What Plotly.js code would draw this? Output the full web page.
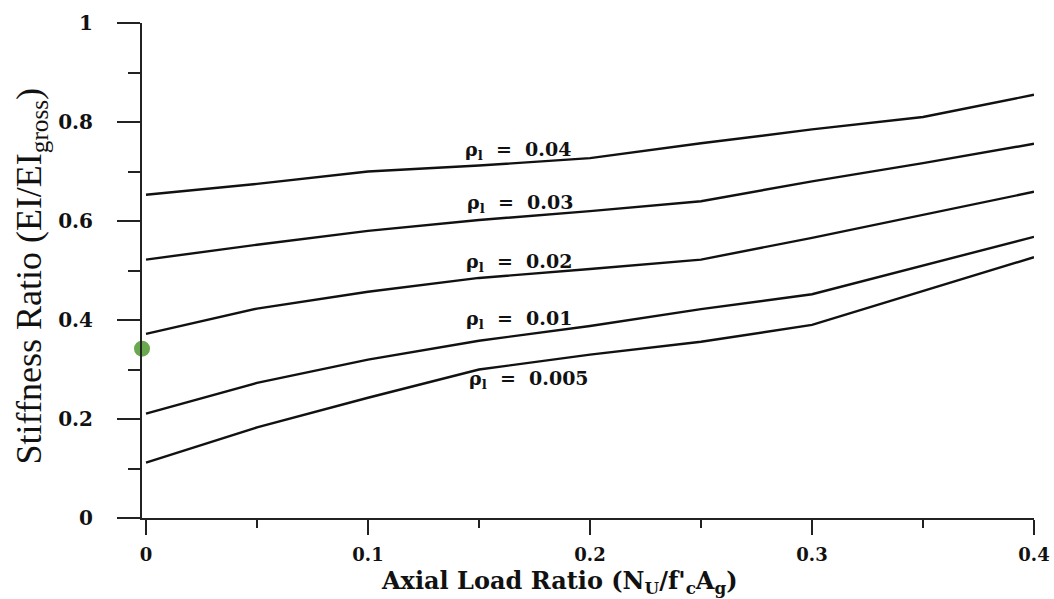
<!DOCTYPE html>
<html>
<head>
<meta charset="utf-8">
<script src="https://cdn.plot.ly/plotly-3.0.1.min.js"></script>
<style>html,body{margin:0;padding:0;background:#fff;}#chart{width:1054px;height:599px;}</style>
</head>
<body>
<div id="chart"></div>
<script>
// Axial load ratio values
const axialLoad = [0, 0.05, 0.1, 0.15, 0.2, 0.25, 0.3, 0.35, 0.4];
// Stiffness ratio for each longitudinal reinforcement ratio
const rho004 = [0.653, 0.675, 0.700, 0.712, 0.727, 0.757, 0.785, 0.810, 0.855];
const rho003 = [0.522, 0.552, 0.580, 0.602, 0.620, 0.640, 0.680, 0.717, 0.756];
const rho002 = [0.372, 0.423, 0.457, 0.485, 0.503, 0.522, 0.566, 0.613, 0.659];
const rho001 = [0.211, 0.273, 0.320, 0.358, 0.388, 0.422, 0.452, 0.510, 0.568];
const rho0005 = [0.112, 0.183, 0.243, 0.300, 0.330, 0.356, 0.390, 0.458, 0.527];
const seriesNames = ['ρ<sub>l</sub>  =  0.04', 'ρ<sub>l</sub>  =  0.03', 'ρ<sub>l</sub>  =  0.02', 'ρ<sub>l</sub>  =  0.01', 'ρ<sub>l</sub>  =  0.005'];
// Highlighted point on the vertical axis
const pointX = [-0.0018];
const pointY = [0.342];

const allSeries = [rho004, rho003, rho002, rho001, rho0005];
// label anchor (x,y) per series
const labelX = [0.1676, 0.1685, 0.168, 0.168, 0.1725];
const labelY = [0.742, 0.635, 0.516, 0.401, 0.280];

const serif = 'DejaVu Serif, serif';
const traces = allSeries.map((ys, i) => ({
  x: axialLoad, y: ys, type: 'scatter', mode: 'lines', name: seriesNames[i],
  line: {color: '#111', width: 2.4}, showlegend: false, hoverinfo: 'skip'
}));
traces.push({
  x: pointX, y: pointY, type: 'scatter', mode: 'markers', showlegend: false,
  marker: {color: '#6aa84f', size: 16, line: {width: 0}}, cliponaxis: false
});

const annotations = seriesNames.map((t, i) => ({
  x: labelX[i], y: labelY[i], xref: 'x', yref: 'y', text: t, showarrow: false,
  xanchor: 'center', yanchor: 'middle',
  font: {family: serif, size: 19, color: '#111', weight: 'bold'}
}));
annotations.push({
  xref: 'paper', yref: 'paper', x: 0, y: 0.488, xshift: -111, textangle: -90,
  xanchor: 'center', yanchor: 'middle', showarrow: false,
  text: 'Stiffness Ratio (EI/EI<sub>gross</sub>)',
  font: {family: 'Liberation Serif, serif', size: 36, color: '#111'}
});
annotations.push({
  xref: 'paper', yref: 'paper', x: 0.4686, y: 0, yshift: -64,
  xanchor: 'center', yanchor: 'middle', showarrow: false,
  text: 'Axial Load Ratio (N<sub>U</sub>/f\'<sub>c</sub>A<sub>g</sub>)',
  font: {family: serif, size: 24, color: '#111', weight: 'bold'}
});

const layout = {
  width: 1054, height: 599,
  margin: {l: 142, r: 20, t: 23, b: 81},
  paper_bgcolor: '#fff', plot_bgcolor: '#fff',
  showlegend: false,
  xaxis: {
    range: [-0.0018, 0.4], showgrid: false, zeroline: false,
    showline: true, linecolor: '#222', linewidth: 2,
    tick0: 0, dtick: 0.1, ticks: 'outside', ticklen: 15, tickwidth: 2, tickcolor: '#222',
    minor: {dtick: 0.05, tick0: 0, ticks: 'outside', ticklen: 8, tickwidth: 2, tickcolor: '#222', showgrid: false},
    ticklabelstandoff: 4,
    tickfont: {family: serif, size: 18, color: '#111', weight: 'bold'}
  },
  yaxis: {
    range: [0, 1], showgrid: false, zeroline: false,
    showline: true, linecolor: '#222', linewidth: 2,
    tick0: 0, dtick: 0.2, ticks: 'outside', ticklen: 23, tickwidth: 2, tickcolor: '#222',
    minor: {dtick: 0.1, tick0: 0, ticks: 'outside', ticklen: 12, tickwidth: 2, tickcolor: '#222', showgrid: false},
    ticklabelstandoff: 20,
    tickfont: {family: serif, size: 20, color: '#111', weight: 'bold'}
  },
  annotations: annotations
};

Plotly.newPlot('chart', traces, layout, {staticPlot: true, displayModeBar: false});
</script>
</body>
</html>
